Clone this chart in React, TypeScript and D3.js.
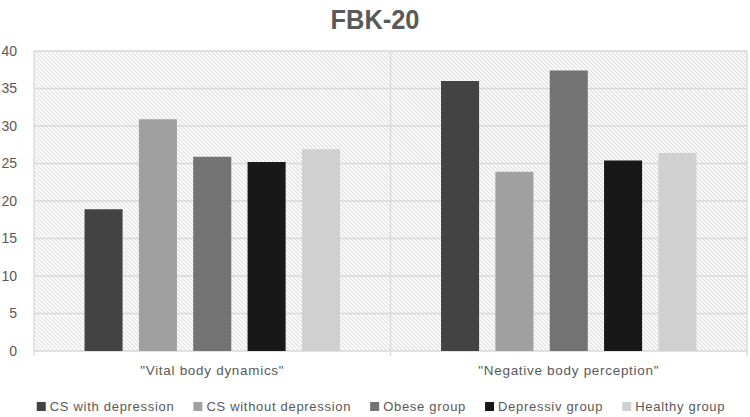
import React, { useRef, useEffect } from "react";
import * as d3 from "d3";

// categories + series
const categories = ['"Vital body dynamics"', '"Negative body perception"'];
const groups = ["CS with depression", "CS without depression", "Obese group", "Depressiv group", "Healthy group"];
const groupColors = ["#434343", "#a0a0a0", "#737373", "#181818", "#d0d0d0"];
const csWithDepression = [18.9, 36.0];
const csWithoutDepression = [30.9, 23.9];
const obeseGroup = [25.9, 37.4];
const depressivGroup = [25.2, 25.4];
const healthyGroup = [26.9, 26.4];
const yTicks = [0, 5, 10, 15, 20, 25, 30, 35, 40];
const title = "FBK-20";

const width = 750;
const height = 417;
const margin = { top: 51, right: 3, bottom: 66, left: 34 };

export default function App() {
  const svgRef = useRef<SVGSVGElement>(null);

  useEffect(() => {
    document.body.style.margin = "0";
    const svg = d3.select(svgRef.current);
    svg.selectAll("*").remove();

    const series = [csWithDepression, csWithoutDepression, obeseGroup, depressivGroup, healthyGroup];
    const innerW = width - margin.left - margin.right;
    const innerH = height - margin.top - margin.bottom;

    const x0 = d3.scaleBand().domain(categories).range([0, innerW]).padding(0);
    const x1 = d3.scaleBand().domain(groups).range([0, x0.bandwidth()]).paddingInner(0.3).paddingOuter(0.93);
    const y = d3.scaleLinear().domain([0, 40]).range([innerH, 0]);

    // hatch background
    const defs = svg.append("defs");
    const pat = defs.append("pattern")
      .attr("id", "hatch")
      .attr("patternUnits", "userSpaceOnUse")
      .attr("width", 2.83)
      .attr("height", 2.83)
      .attr("patternTransform", "rotate(-45)");
    pat.append("rect").attr("width", 2.83).attr("height", 2.83).attr("fill", "#ffffff");
    pat.append("line")
      .attr("x1", 0.6).attr("y1", 0).attr("x2", 0.6).attr("y2", 2.83)
      .attr("stroke", "#d4d4d4").attr("stroke-width", 0.9);

    svg.append("text")
      .attr("x", width / 2)
      .attr("y", 29)
      .attr("text-anchor", "middle")
      .attr("font-family", "Liberation Sans, Arial, sans-serif")
      .attr("font-weight", "bold")
      .attr("font-size", 28)
      .attr("textLength", 89)
      .attr("lengthAdjust", "spacingAndGlyphs")
      .attr("fill", "#595959")
      .text(title);

    const g = svg.append("g").attr("transform", `translate(${margin.left},${margin.top})`);

    g.append("rect").attr("width", innerW).attr("height", innerH).attr("fill", "url(#hatch)");

    // grid
    g.selectAll(".grid")
      .data(yTicks)
      .join("line")
      .attr("class", "grid")
      .attr("x1", 0).attr("x2", innerW)
      .attr("y1", (d) => y(d)).attr("y2", (d) => y(d))
      .attr("stroke", "#d9d9d9")
      .attr("stroke-width", 1.3);

    // category dividers (and frame sides)
    const edges = [0, ...categories.map((c) => (x0(c) as number) + x0.bandwidth())];
    g.selectAll(".div")
      .data(edges)
      .join("line")
      .attr("class", "div")
      .attr("x1", (d) => d).attr("x2", (d) => d)
      .attr("y1", 0).attr("y2", innerH + 5)
      .attr("stroke", "#d9d9d9")
      .attr("stroke-width", 1.3);

    // bars
    categories.forEach((cat, ci) => {
      g.append("g")
        .attr("transform", `translate(${x0(cat)},0)`)
        .selectAll("rect")
        .data(groups)
        .join("rect")
        .attr("x", (d) => x1(d) as number)
        .attr("width", x1.bandwidth())
        .attr("y", (d, i) => y(series[i][ci]))
        .attr("height", (d, i) => innerH - y(series[i][ci]))
        .attr("fill", (d, i) => groupColors[i]);
    });

    // y ticks
    g.selectAll(".ylab")
      .data(yTicks)
      .join("text")
      .attr("class", "ylab")
      .attr("x", -17)
      .attr("y", (d) => y(d))
      .attr("dy", "0.35em")
      .attr("text-anchor", "end")
      .attr("font-family", "Liberation Sans, Arial, sans-serif")
      .attr("font-size", 14)
      .attr("fill", "#595959")
      .text((d) => d);

    // category labels
    g.selectAll(".xlab")
      .data(categories)
      .join("text")
      .attr("class", "xlab")
      .attr("x", (d) => (x0(d) as number) + x0.bandwidth() / 2)
      .attr("y", innerH + 24)
      .attr("text-anchor", "middle")
      .attr("font-family", "Liberation Sans, Arial, sans-serif")
      .attr("font-size", 13.5)
      .attr("letter-spacing", 0.7)
      .attr("fill", "#595959")
      .text((d) => d);

    // legend
    const leg = svg.append("g");
    const gap = 19;
    let cx = 0;
    groups.forEach((name, i) => {
      const item = leg.append("g").attr("transform", `translate(${cx},0)`);
      item.append("rect").attr("x", 0).attr("y", -9).attr("width", 9).attr("height", 9).attr("fill", groupColors[i]);
      const t = item.append("text")
        .attr("x", 13)
        .attr("y", 0)
        .attr("font-family", "Liberation Sans, Arial, sans-serif")
        .attr("font-size", 13)
        .attr("letter-spacing", 0.7)
        .attr("fill", "#595959")
        .text(name);
      const w = (t.node() as SVGTextElement).getComputedTextLength();
      cx += 13 + w + gap;
    });
    const total = cx - gap;
    leg.attr("transform", `translate(${381 - total / 2},${411})`);
  }, []);

  return <svg ref={svgRef} width={width} height={height} style={{ display: "block" }} />;
}
